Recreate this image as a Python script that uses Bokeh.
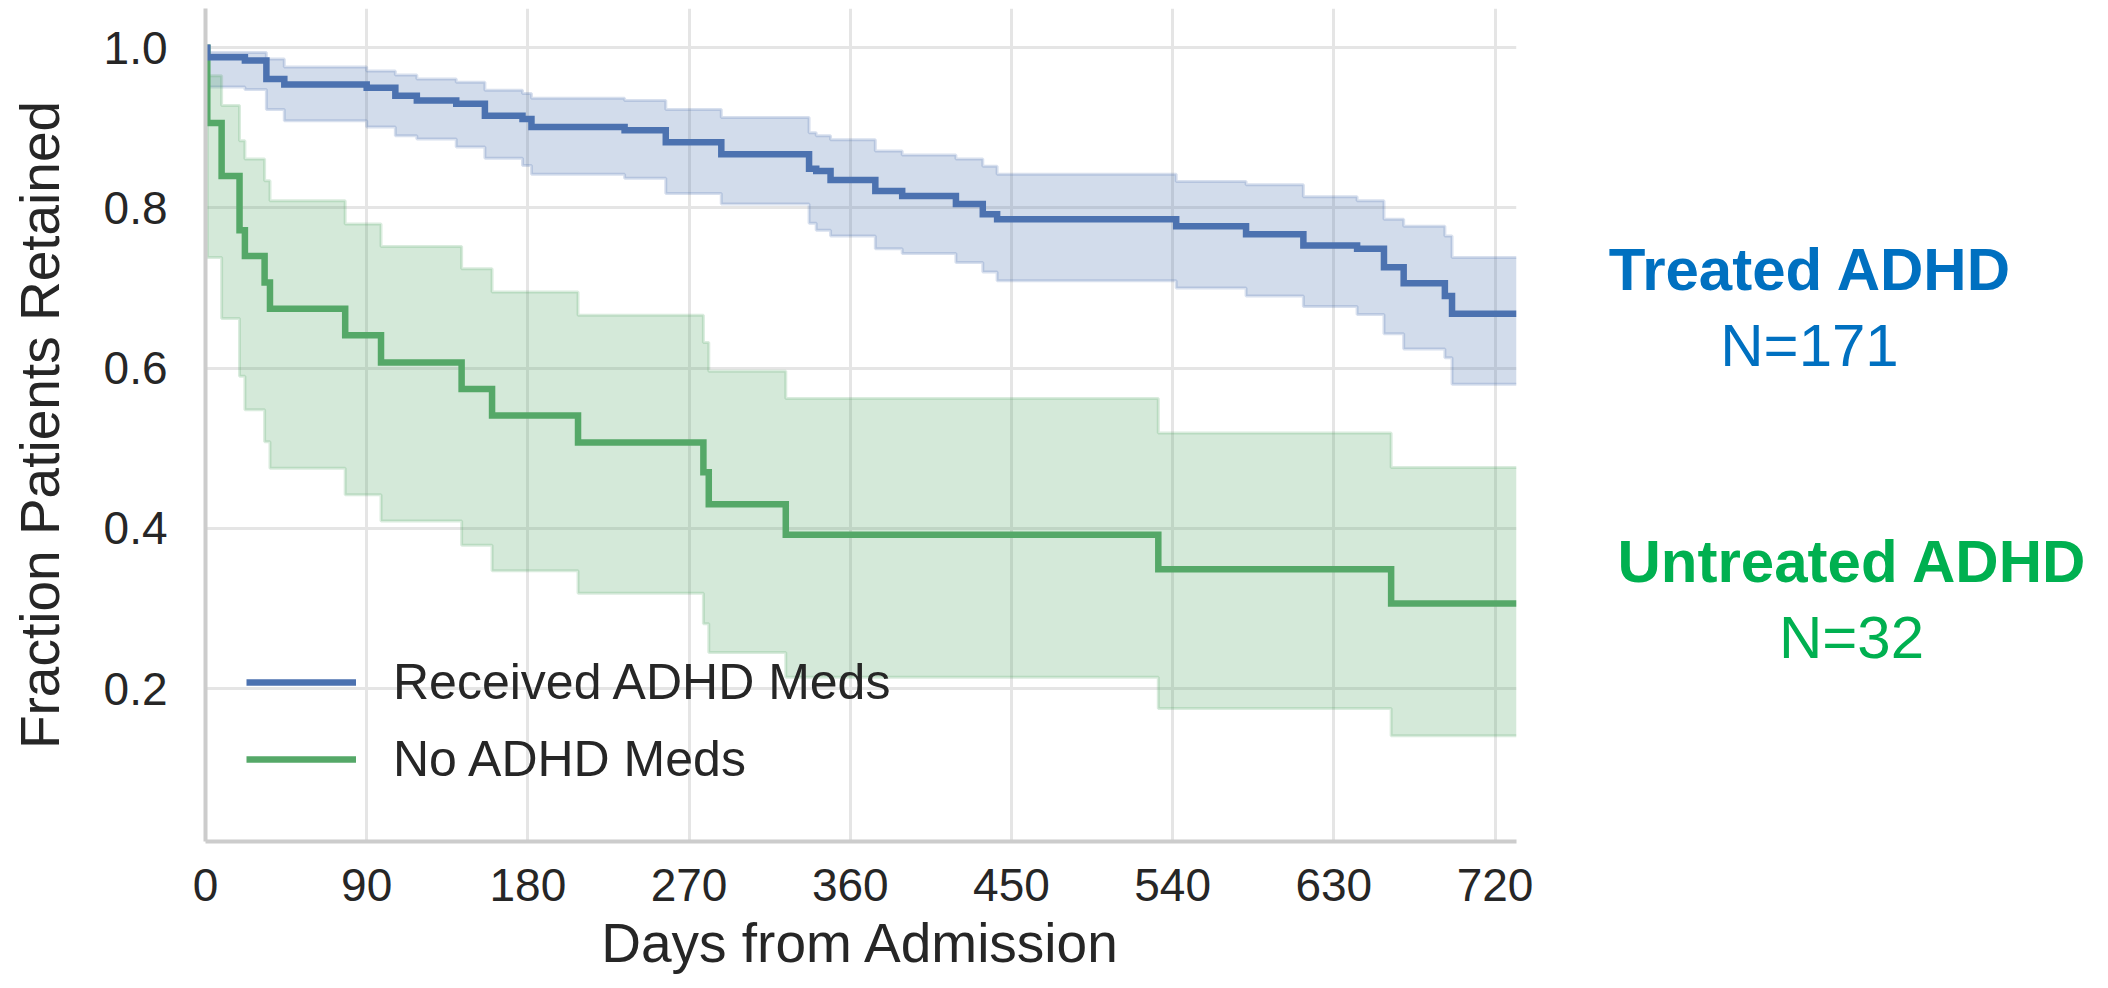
from bokeh.plotting import figure
from bokeh.layouts import row
from bokeh.models import (Range1d, FixedTicker, NumeralTickFormatter, Legend,
                          LegendItem)
from bokeh.core.properties import value
from bokeh.embed import file_html
from bokeh.resources import INLINE

# Kaplan-Meier retention, patients who received ADHD medication
treated_days = [0, 1, 22, 34, 44, 90, 106, 118, 140, 156, 177, 182, 234, 257, 288,
                337, 341, 349, 374, 389, 419, 434, 442, 542, 581, 613, 643, 658,
                669, 692, 696]
treated_surv = [1.000, 0.988, 0.984, 0.961, 0.954, 0.950, 0.940, 0.934, 0.930, 0.915,
                0.911, 0.901, 0.897, 0.882, 0.867, 0.849, 0.846, 0.835, 0.821, 0.815,
                0.805, 0.792, 0.786, 0.777, 0.767, 0.753, 0.749, 0.726, 0.706, 0.690,
                0.668]
treated_lo = [1.000, 0.951, 0.948, 0.923, 0.909, 0.901, 0.890, 0.886, 0.876, 0.862,
              0.853, 0.842, 0.837, 0.818, 0.805, 0.781, 0.772, 0.765, 0.749, 0.743,
              0.732, 0.720, 0.709, 0.700, 0.690, 0.677, 0.667, 0.643, 0.624, 0.613,
              0.580]
treated_hi = [1.000, 0.994, 0.994, 0.986, 0.976, 0.971, 0.966, 0.961, 0.957, 0.947,
              0.943, 0.937, 0.934, 0.923, 0.913, 0.894, 0.890, 0.885, 0.871, 0.866,
              0.861, 0.852, 0.842, 0.833, 0.829, 0.814, 0.809, 0.786, 0.777, 0.765,
              0.738]

# Kaplan-Meier retention, patients with no ADHD medication
untreated_days = [0, 1, 9, 19, 22, 33, 36, 78, 98, 143, 160, 208, 278, 281, 324,
                  532, 662]
untreated_surv = [1.000, 0.906, 0.840, 0.772, 0.740, 0.707, 0.674, 0.641, 0.607,
                  0.574, 0.541, 0.507, 0.470, 0.430, 0.392, 0.349, 0.306]
untreated_lo = [1.000, 0.738, 0.662, 0.590, 0.548, 0.508, 0.475, 0.442, 0.409,
                0.379, 0.347, 0.319, 0.281, 0.245, 0.214, 0.175, 0.141]
untreated_hi = [1.000, 0.965, 0.928, 0.884, 0.861, 0.834, 0.809, 0.780, 0.752,
                0.724, 0.695, 0.666, 0.632, 0.596, 0.562, 0.519, 0.476]

follow_up_end = 732
series_labels = ["Received ADHD Meds", "No ADHD Meds"]
group_names = ["Treated ADHD", "Untreated ADHD"]
group_counts = [171, 32]

x_ticks = [0, 90, 180, 270, 360, 450, 540, 630, 720]
y_ticks = [0.2, 0.4, 0.6, 0.8, 1.0]

BLUE = "#4C72B0"
GREEN = "#55A868"
TEXT = "#262626"
FONT = "Liberation Sans"
BORDER_TOP, BORDER_BOTTOM = 8, 147

p = figure(width=1560, height=988, output_backend="svg", toolbar_location=None,
           x_range=Range1d(0, follow_up_end), y_range=Range1d(0.009, 1.049),
           min_border_left=205, min_border_right=44, min_border_top=BORDER_TOP,
           min_border_bottom=BORDER_BOTTOM)
p.outline_line_color = None
p.background_fill_color = "white"
p.border_fill_color = "white"


def extend(days, vals):
    """Carry the last estimate out to the end of follow-up."""
    return list(days) + [follow_up_end], list(vals) + [vals[-1]]


# confidence bands with their faint outlines
for days, lo, hi, color in [
        (treated_days, treated_lo, treated_hi, BLUE),
        (untreated_days, untreated_lo, untreated_hi, GREEN)]:
    xs, lo_e = extend(days, lo)
    _, hi_e = extend(days, hi)
    p.varea_step(x=xs, y1=lo_e, y2=hi_e, step_mode="after",
                 fill_color=color, fill_alpha=0.25)
    for edge in (lo_e, hi_e):
        p.step(xs, edge, mode="after", line_color=color, line_alpha=0.22,
               line_width=3)

# survival step curves
curve = {}
for key, days, surv, color in [("untreated", untreated_days, untreated_surv, GREEN),
                               ("treated", treated_days, treated_surv, BLUE)]:
    xs, ys = extend(days, surv)
    curve[key] = p.step(xs, ys, mode="after", line_color=color, line_width=6.5,
                        line_join="miter")

# axes
for ax in (p.xaxis, p.yaxis):
    ax.axis_line_color = "#cccccc"
    ax.axis_line_width = 4
    ax.major_tick_line_color = None
    ax.minor_tick_line_color = None
    ax.major_tick_out = 0
    ax.major_tick_in = 0
    ax.major_label_text_font = FONT
    ax.major_label_text_font_size = "46px"
    ax.major_label_text_color = TEXT
    ax.axis_label_text_font = FONT
    ax.axis_label_text_font_size = "55px"
    ax.axis_label_text_font_style = "normal"
    ax.axis_label_text_color = TEXT

p.xaxis.ticker = FixedTicker(ticks=x_ticks)
p.yaxis.ticker = FixedTicker(ticks=y_ticks)
p.yaxis.formatter = NumeralTickFormatter(format="0.0")
p.xaxis.axis_label = "Days from Admission"
p.yaxis.axis_label = "Fraction Patients Retained"
p.xaxis.major_label_standoff = 27
p.xaxis.axis_label_standoff = 8
p.yaxis.major_label_standoff = 38
p.yaxis.axis_label_standoff = 30

for g, ticks in ((p.xgrid, x_ticks), (p.ygrid, y_ticks)):
    g.ticker = FixedTicker(ticks=ticks)
    g.grid_line_color = "#e5e5e5"
    g.grid_line_width = 3

legend = Legend(items=[LegendItem(label=series_labels[0], renderers=[curve["treated"]]),
                       LegendItem(label=series_labels[1], renderers=[curve["untreated"]])],
                location=(41, 53), orientation="vertical",
                background_fill_alpha=0, border_line_alpha=0,
                glyph_width=110, glyph_height=50, label_height=50, spacing=19,
                padding=0, margin=0, label_standoff=37,
                label_text_font=FONT, label_text_font_size="50px",
                label_text_color=TEXT)
p.add_layout(legend)

# side panel naming each group and its size; its frame shares the main
# plot's top and bottom borders, and y counts pixels up from the page bottom
side = figure(width=548, height=988, output_backend="svg", toolbar_location=None,
              x_range=Range1d(0, 548),
              y_range=Range1d(BORDER_BOTTOM, 988 - BORDER_TOP),
              x_axis_type=None, y_axis_type=None,
              min_border_left=0, min_border_right=0,
              min_border_top=BORDER_TOP, min_border_bottom=BORDER_BOTTOM)
side.outline_line_color = None
side.xgrid.visible = False
side.ygrid.visible = False
side.background_fill_color = "white"
side.border_fill_color = "white"

group_colors = ["#0070C0", "#00B050"]
# text centres (x, y) in panel pixels
name_pos = [(250, 719), (292, 427)]
count_pos = [(249, 643), (291, 351)]
for i in range(2):
    side.text(x=[name_pos[i][0]], y=[name_pos[i][1]], text=[group_names[i]],
              text_align="center", text_baseline="middle",
              text_font=value(FONT), text_font_size="60px",
              text_font_style="bold", text_color=group_colors[i])
    side.text(x=[count_pos[i][0]], y=[count_pos[i][1]],
              text=[f"N={group_counts[i]}"],
              text_align="center", text_baseline="middle",
              text_font=value(FONT), text_font_size="60px",
              text_font_style="normal", text_color=group_colors[i])

layout = row(p, side)
open("out.html", "w").write(file_html(layout, INLINE))
